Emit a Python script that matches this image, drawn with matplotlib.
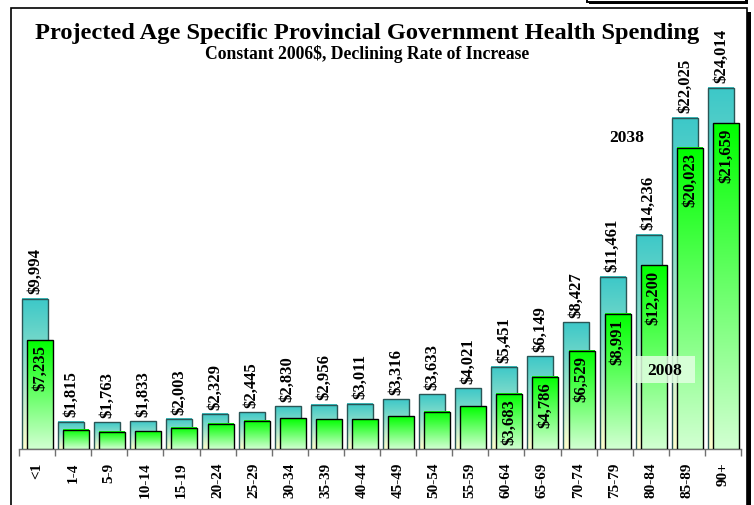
import numpy as np
import matplotlib
matplotlib.use("Agg")
import matplotlib.pyplot as plt
from matplotlib.patches import Rectangle

# ---- data -------------------------------------------------------------
age_groups = ["<1", "1-4", "5-9", "10-14", "15-19", "20-24", "25-29", "30-34",
              "35-39", "40-44", "45-49", "50-54", "55-59", "60-64", "65-69",
              "70-74", "75-79", "80-84", "85-89", "90+"]
spend_2038 = [9994, 1815, 1763, 1833, 2003, 2329, 2445, 2830, 2956, 3011,
              3316, 3633, 4021, 5451, 6149, 8427, 11461, 14236, 22025, 24014]
spend_2008 = [7235, 1270, 1135, 1175, 1420, 1690, 1865, 2045, 1980, 1980,
              2180, 2465, 2845, 3683, 4786, 6529, 8991, 12200, 20023, 21659]
show_2008_label = [True] + [False] * 12 + [True] * 7

title = "Projected Age Specific Provincial Government Health Spending"
subtitle = "Constant 2006$, Declining Rate of Increase"

SERIF = ["Liberation Serif", "DejaVu Serif"]

W, H = 754, 506
fig = plt.figure(figsize=(W / 100, H / 100), dpi=100)
fig.patch.set_facecolor("white")


def fx(x):
    return x / W


def fy(y):
    return 1 - y / H


def frame_box(x0, y0, x1, y1, shadow, lw, z):
    if shadow:
        fig.add_artist(Rectangle((fx(x0 + shadow), fy(y1 + shadow)),
                                 fx(x1 - x0), (y1 - y0) / H,
                                 transform=fig.transFigure, facecolor="black",
                                 edgecolor="none", zorder=z))
    fig.add_artist(Rectangle((fx(x0), fy(y1)), fx(x1 - x0), (y1 - y0) / H,
                             transform=fig.transFigure, facecolor="white",
                             edgecolor="black", lw=lw, zorder=z + 0.01))


# outer chart frame with drop shadow, and the small box above it
frame_box(587, -20, 746, 3, 2, 1.4, -2)
frame_box(11, 9, 747, 540, 4, 1.2, -1)

# ---- axes -------------------------------------------------------------
px_per_dollar = 0.01505
ax_left, ax_right, base_y, ax_h = 19, 741, 450, 392
ax = fig.add_axes([fx(ax_left), fy(base_y), fx(ax_right - ax_left), ax_h / H])
ax.set_zorder(2)
ax.patch.set_alpha(0)

x = np.arange(len(age_groups))
bw = 0.72
off_38, off_08 = -0.057, 0.082

bars_38 = ax.bar(x + off_38, spend_2038, width=bw, facecolor="none",
                 edgecolor="#2a5555", lw=1.0, zorder=3)
bars_08 = ax.bar(x + off_08, spend_2008, width=bw, facecolor="none",
                 edgecolor="black", lw=1.0, zorder=5)


def gradient_fill(bars, top_rgb, bottom_rgb, z):
    top = np.array(top_rgb) / 255.0
    bot = np.array(bottom_rgb) / 255.0
    t = np.linspace(1, 0, 256)[:, None, None]
    img = bot + (top - bot) * t
    for b in bars:
        x0, w, h = b.get_x(), b.get_width(), b.get_height()
        ax.imshow(img, extent=(x0, x0 + w, 0, h), origin="upper",
                  aspect="auto", interpolation="bilinear", zorder=z)


gradient_fill(bars_38, (60, 200, 200), (255, 255, 205), 2.9)
gradient_fill(bars_08, (0, 255, 0), (210, 255, 210), 4.9)

ax.set_xlim(-0.5, len(age_groups) - 0.5)
ax.set_ylim(0, ax_h / px_per_dollar)

for side in ("left", "right", "top"):
    ax.spines[side].set_visible(False)
ax.spines["bottom"].set_color("#707070")
ax.spines["bottom"].set_linewidth(1.0)
ax.set_yticks([])
ax.set_xticks(np.arange(-0.5, len(age_groups), 1.0))
ax.set_xticklabels([])
ax.tick_params(axis="x", which="major", length=5, width=1.0, color="#707070",
               direction="out")
ax.set_xticks(x, minor=True)
ax.set_xticklabels(age_groups, minor=True, rotation=90, fontsize=11,
                   fontweight="bold", family=SERIF, va="top", ha="center")
ax.tick_params(axis="x", which="minor", length=0, pad=9)

# value labels
for xi, v in zip(x, spend_2038):
    ax.annotate(f"${v:,}", xy=(xi + off_38, v), xytext=(0, 3.8),
                textcoords="offset points", rotation=90, ha="center",
                va="bottom", fontsize=12, fontweight="bold", family=SERIF,
                zorder=6)
for xi, v, show in zip(x, spend_2008, show_2008_label):
    if show:
        ax.annotate(f"${v:,}", xy=(xi + off_08, v), xytext=(0, -3),
                    textcoords="offset points", rotation=90, ha="center",
                    va="top", fontsize=12, fontweight="bold", family=SERIF,
                    zorder=6)

# series captions
fig.text(fx(627), fy(138.5), "2038", ha="center", va="center", fontsize=12.5,
         fontweight="bold", family=SERIF, zorder=10)
fig.add_artist(Rectangle((fx(634), fy(384)), fx(61), 27 / H,
                         transform=fig.transFigure, facecolor="#e2ffe2",
                         edgecolor="none", alpha=0.85, zorder=9))
fig.text(fx(664.5), fy(371), "2008", ha="center", va="center", fontsize=12.5,
         fontweight="bold", family=SERIF, zorder=10)

# titles, sized to their target widths
fig.canvas.draw()
renderer = fig.canvas.get_renderer()


def fitted_text(s, cx, cy, width_px, size0):
    t = fig.text(fx(cx), fy(cy), s, ha="center", va="center", fontsize=size0,
                 fontweight="bold", family=SERIF, zorder=10)
    w = t.get_window_extent(renderer).width
    t.set_fontsize(size0 * width_px / w)
    return t


fitted_text(title, 367, 33, 662, 18)
fitted_text(subtitle, 367, 54, 325, 10)

fig.savefig("out.png", dpi=100, facecolor="white")
